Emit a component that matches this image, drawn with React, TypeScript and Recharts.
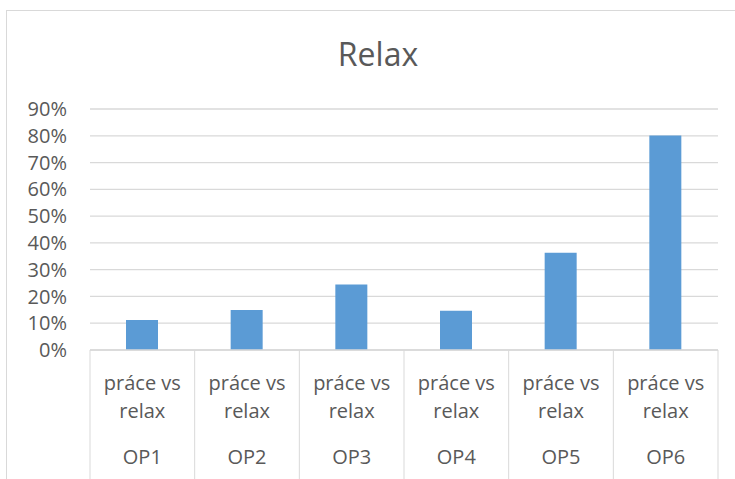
import React from 'react';
import { BarChart, Bar, XAxis, YAxis, CartesianGrid } from 'recharts';

// chart values
const groups = ['OP1', 'OP2', 'OP3', 'OP4', 'OP5', 'OP6'];
const subLabel = ['práce vs', 'relax'];
const values = [0.112, 0.149, 0.245, 0.147, 0.363, 0.801];
const yTicks = [0, 0.1, 0.2, 0.3, 0.4, 0.5, 0.6, 0.7, 0.8, 0.9];

const data = groups.map((g, i) => ({ group: g, value: values[i] }));

const TEXT = '#595959';
const LINE = '#d9d9d9';
const FONT = '"Open Sans", sans-serif';
const AXIS_H = 129;

const CategoryTick = (props: any) => {
  const { x, y, payload, index } = props;
  const half = payload && payload.offset ? payload.offset : 52.3;
  return (
    <g>
      {index === 0 && (
        <line x1={x - half} y1={y} x2={x - half} y2={y + AXIS_H} stroke={LINE} strokeWidth={1} />
      )}
      <line x1={x + half} y1={y} x2={x + half} y2={y + AXIS_H} stroke={LINE} strokeWidth={1} />
      <text x={x} y={y + 40} textAnchor="middle" fill={TEXT} fontSize={20} fontFamily={FONT}>{subLabel[0]}</text>
      <text x={x} y={y + 68} textAnchor="middle" fill={TEXT} fontSize={20} fontFamily={FONT}>{subLabel[1]}</text>
      <text x={x} y={y + 114} textAnchor="middle" fill={TEXT} fontSize={20} fontFamily={FONT}>{payload.value}</text>
    </g>
  );
};

const App: React.FC = () => {
  return (
    <div style={{ position: 'absolute', left: 0, top: 0, width: 735, height: 479, overflow: 'hidden', background: '#fff' }}>
      {/* outer chart frame */}
      <div style={{ position: 'absolute', left: 6, top: 10, width: 760, height: 500, border: `1px solid ${LINE}` }} />
      <div
        style={{
          position: 'absolute', left: 278, top: 38, width: 200, textAlign: 'center',
          fontFamily: FONT, fontSize: 32, lineHeight: '32px', color: TEXT,
        }}
      >
        Relax
      </div>
      <div style={{ position: 'absolute', left: 0, top: 0 }}>
        <BarChart width={735} height={479} data={data} margin={{ top: 109, right: 17, bottom: 0, left: 0 }}>
          <CartesianGrid vertical={false} stroke={LINE} strokeWidth={1.3} />
          <XAxis
            dataKey="group"
            height={AXIS_H}
            tickLine={false}
            tickSize={0}
            tickMargin={0}
            axisLine={{ stroke: LINE, strokeWidth: 1.3 }}
            interval={0}
            tick={<CategoryTick />}
          />
          <YAxis
            width={90}
            domain={[0, 0.9]}
            ticks={yTicks}
            interval={0}
            axisLine={false}
            tickLine={false}
            tickSize={0}
            tickMargin={23}
            tick={{ fill: TEXT, fontSize: 20, fontFamily: FONT }}
            tickFormatter={(v: number) => `${Math.round(v * 100)}%`}
          />
          <Bar dataKey="value" fill="#5b9bd5" barSize={32} isAnimationActive={false} />
        </BarChart>
      </div>
    </div>
  );
};

export default App;
